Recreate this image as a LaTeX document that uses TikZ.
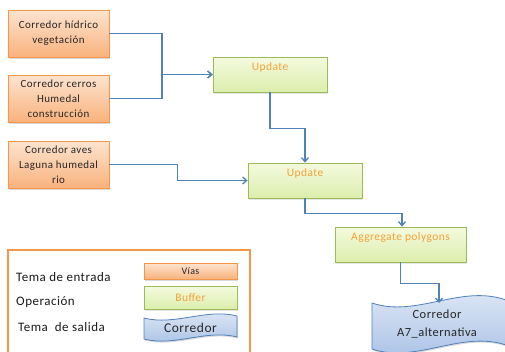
\documentclass[tikz,border=0pt]{standalone}
\usepackage{fontspec}
\setmainfont{Carlito}[LetterSpace=4]
\usetikzlibrary{arrows.meta,shapes.misc,calc,shadows}
\definecolor{orEdge}{HTML}{F79646}
\definecolor{orTop}{HTML}{FDE4D0}
\definecolor{orBot}{HTML}{F9B27D}
\definecolor{grEdge}{HTML}{9BBB59}
\definecolor{grTop}{HTML}{F4FADF}
\definecolor{grBot}{HTML}{DCEEAC}
\definecolor{blEdge}{HTML}{4F81BD}
\definecolor{blTop}{HTML}{E1EAF6}
\definecolor{blBot}{HTML}{A7C0E5}
\definecolor{conn}{HTML}{4F81BD}
\definecolor{optxt}{HTML}{F7A03A}
\begin{document}
\begin{tikzpicture}[x=1bp,y=-1bp,
  shad/.style={drop shadow={shadow xshift=1bp,shadow yshift=-1.5bp,opacity=0.25,fill=black!60}},
  inbox/.style={draw=orEdge,line width=0.8bp,top color=orTop,bottom color=orBot,
    minimum width=101bp,minimum height=47bp,inner sep=0pt,align=center,
    font=\fontsize{11}{15}\selectfont,text=black!85,shad},
  opbox/.style={chamfered rectangle,chamfered rectangle corners=north east,
    chamfered rectangle xsep=4bp,chamfered rectangle ysep=4bp,
    draw=grEdge,line width=0.8bp,top color=grTop,bottom color=grBot,
    inner sep=0pt,shad},
  optext/.style={font=\fontsize{11.5}{12}\selectfont,text=optxt,inner sep=0pt},
  wavebox/.style={draw=blEdge,line width=0.8bp,top color=blTop,bottom color=blBot,shad},
  outtext/.style={font=\fontsize{12.5}{18}\selectfont,text=black!85,align=center,inner sep=0pt},
  legtext/.style={font=\fontsize{13}{14}\selectfont,text=black!90,anchor=west,inner sep=0pt},
  conline/.style={draw=conn,line width=1.3bp,-{Straight Barb[length=4bp,width=7bp]}}]
\useasboundingbox (0,0) rectangle (505,351);
\clip (0,0) rectangle (505,351);

% input nodes
\node[inbox] (b1) at (58.5,33.5) {Corredor hídrico\\vegetación};
\node[inbox] (b2) at (58.5,98.5) {Corredor cerros\\Humedal\\construcción};
\node[inbox] (b3) at (58.5,164.5) {Corredor aves\\Laguna humedal\\rio};

% operation nodes
\node[opbox,minimum width=114bp,minimum height=35bp] (u1) at (270,74.5) {};
\node[optext] (u1t) at ($(u1.north)+(0,11)$) {Update};
\node[opbox,minimum width=114bp,minimum height=35bp] (u2) at (305,180.5) {};
\node[optext] (u2t) at ($(u2.north)+(0,11)$) {Update};
\node[opbox,minimum width=131bp,minimum height=35bp] (ag) at (400.5,244.5) {};
\node[optext] (agt) at ($(ag.north)+(0,11)$) {Aggregate polygons};

% output node
\path[wavebox] (372,303) .. controls (416,318) and (461,284) .. (506,300)
  -- (506,345) .. controls (461,330) and (416,364) .. (372,349) -- cycle;
\coordinate (out) at (439,303);
\node[outtext] (outt) at (437,324) {Corredor\\A7\_alternativa};

% connectors
\coordinate (j1) at (162,74.5);
\draw[conline] (b1.east) -| (j1) -- (u1.west);
\draw[conline] (b2.east) -| (j1) -- (u1.west);
\draw[conline] (b3.east) -- ++(68,0) |- (u2.west);
\draw[conline] (u1.south) -- ++(0,36) -| (u2.north);
\draw[conline] (u2.south) -- ++(0,15) -| ($(ag.north)+(1.5,0)$);
\draw[conline] (ag.south) -- ++(0,21) -| (out);

% legend
\draw[orEdge,line width=1.8bp] (8,250) rectangle (250,370);
\node[legtext] (l1) at (16,277) {Tema de entrada};
\node[legtext] (l2) at (16,302) {Operación};
\node[legtext] (l3) at (18,327) {Tema\ \ de salida};
\node[inbox,minimum width=93bp,minimum height=16bp,font=\fontsize{10}{11}\selectfont] (lv) at (190.5,271) {Vías};
\node[opbox,minimum width=93bp,minimum height=23bp] (lb) at (190.5,297.5) {};
\node[optext] (lbt) at (190.5,297.5) {Buffer};
\path[wavebox] (144,318) .. controls (175,326) and (206,308) .. (237,316)
  -- (237,337) .. controls (206,329) and (175,347) .. (144,339) -- cycle;
\node[outtext,font=\fontsize{13.5}{15}\selectfont] (lc) at (190.5,328) {Corredor};
\end{tikzpicture}
\end{document}
